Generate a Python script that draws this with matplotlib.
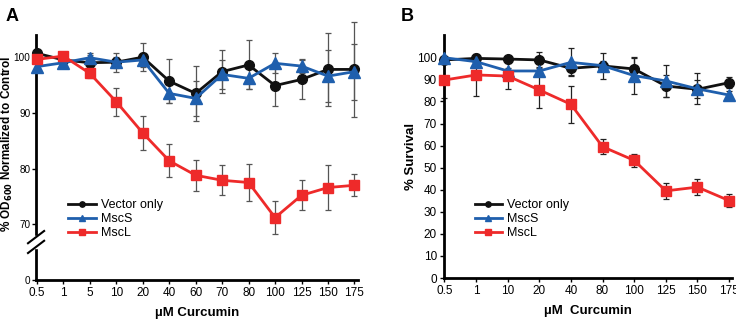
import numpy as np
import matplotlib
matplotlib.use("Agg")
import matplotlib.pyplot as plt

plt.rcParams["font.family"] = ["Liberation Sans", "DejaVu Sans"]

# ----------------------------
# Data, panel A (OD600, % of control)
# ----------------------------
conc_a = ["0.5", "1", "5", "10", "20", "40", "60", "70", "80", "100", "125", "150", "175"]
vec_a = [100.7, 99.5, 99.0, 99.1, 100.0, 95.7, 93.5, 97.4, 98.6, 94.9, 96.0, 97.8, 97.8]
vec_a_err = [0.6, 1.0, 1.3, 1.7, 2.5, 3.9, 5.0, 3.8, 4.4, 3.6, 3.5, 6.5, 8.5]
mscs_a = [98.3, 99.0, 99.9, 99.1, 99.5, 93.5, 92.6, 96.9, 96.2, 98.9, 98.4, 96.6, 97.4]
mscs_a_err = [0.8, 0.8, 0.8, 1.0, 1.2, 1.8, 3.2, 2.6, 2.0, 1.8, 1.2, 4.7, 5.0]
mscl_a = [99.6, 100.2, 97.1, 92.0, 86.4, 81.4, 78.8, 77.9, 77.5, 71.2, 75.2, 76.6, 77.0]
mscl_a_err = [0.6, 0.8, 0.8, 2.5, 3.0, 3.0, 2.8, 2.7, 3.3, 3.0, 2.7, 4.1, 2.0]

# ----------------------------
# Data, panel B (% survival)
# ----------------------------
conc_b = ["0.5", "1", "10", "20", "40", "80", "100", "125", "150", "175"]
vec_b = [98.8, 99.5, 99.2, 98.8, 95.0, 96.1, 94.7, 87.0, 85.5, 88.5]
vec_b_err = [1.0, 1.5, 1.5, 3.5, 3.0, 6.0, 5.0, 5.0, 4.0, 2.5]
mscs_b = [99.8, 98.0, 93.8, 93.8, 97.7, 96.2, 91.7, 89.3, 85.7, 82.9]
mscs_b_err = [1.0, 1.5, 1.5, 2.0, 6.4, 2.0, 8.3, 7.3, 7.0, 2.0]
mscl_b = [89.7, 92.0, 91.5, 85.2, 78.7, 59.5, 53.3, 39.5, 41.2, 35.1]
mscl_b_err = [8.0, 9.5, 6.0, 8.0, 8.5, 3.3, 3.0, 3.5, 3.5, 3.0]

labels = ["Vector only", "MscS", "MscL"]
colors = ["#111111", "#1f5fad", "#ee2a2a"]
markers = ["o", "^", "s"]
msizes = [7, 8, 7.5]

fig = plt.figure(figsize=(7.36, 3.2), dpi=100)
ax_a = fig.add_axes([0.049, 0.125, 0.438, 0.766])
ax_b = fig.add_axes([0.603, 0.131, 0.391, 0.759])


def draw_series(ax, xs, series, errs, ecolor):
    handles = []
    for y, e, c, m, ms, lab in zip(series, errs, colors, markers, msizes, labels):
        ax.errorbar(xs, y, yerr=e, fmt="none", ecolor=ecolor, elinewidth=0.9,
                    capsize=2, capthick=0.9, zorder=2, clip_on=False)
        h, = ax.plot(xs, y, color=c, marker=m, markersize=ms, linewidth=2,
                     label=lab, zorder=3, clip_on=False)
        handles.append(h)
    return handles


def style_axes(ax):
    for s in ["top", "right"]:
        ax.spines[s].set_visible(False)
    for s in ["left", "bottom"]:
        ax.spines[s].set_linewidth(2)
    ax.tick_params(axis="both", labelsize=8.5, width=1, length=3, pad=2)


# ----------------------------
# Panel A
# ----------------------------
xa = np.arange(len(conc_a))
ha = draw_series(ax_a, xa, [vec_a, mscs_a, mscl_a], [vec_a_err, mscs_a_err, mscl_a_err], "#555555")
style_axes(ax_a)
ax_a.tick_params(axis="y", labelsize=7.2, pad=1)
ax_a.set_xlim(-0.03, 12.15)
# broken axis: "0" drawn at the 60 position
ax_a.set_ylim(60, 104)
ax_a.set_yticks([60, 70, 80, 90, 100])
ax_a.set_yticklabels(["0", "70", "80", "90", "100"])
ax_a.set_xticks(xa)
ax_a.set_xticklabels(conc_a)
ax_a.set_xlabel("µM Curcumin", fontsize=9.5, fontweight="bold", labelpad=6)
fig.text(0.0095, 0.55, r"% OD$_{\mathbf{600}}$ Normalized to Control", fontsize=8.5,
         fontweight="bold", rotation=90, ha="center", va="center")
# break marks
ax_a.add_patch(plt.Rectangle((-0.02, 0.13), 0.04, 0.05, transform=ax_a.transAxes,
                             color="white", clip_on=False, zorder=5))
for yb in [0.135, 0.175]:
    ax_a.plot([-0.025, 0.025], [yb - 0.025, yb + 0.025], transform=ax_a.transAxes,
              color="black", linewidth=1.5, clip_on=False, zorder=6)
ax_a.legend(handles=ha, loc="upper left", bbox_to_anchor=(0.085, 0.35), frameon=False,
            fontsize=9, handlelength=2.2, markerscale=0.55, labelspacing=0.15,
            handletextpad=0.4, borderaxespad=0)
fig.text(0.008, 0.975, "A", fontsize=13, fontweight="bold", va="top")

# ----------------------------
# Panel B
# ----------------------------
xb = np.arange(len(conc_b))
hb = draw_series(ax_b, xb, [vec_b, mscs_b, mscl_b], [vec_b_err, mscs_b_err, mscl_b_err], "#222222")
style_axes(ax_b)
ax_b.set_xlim(-0.02, 9.08)
ax_b.set_ylim(0, 110)
ax_b.set_yticks(np.arange(0, 101, 10))
ax_b.set_xticks(xb)
ax_b.set_xticklabels(conc_b)
ax_b.set_xlabel("µM  Curcumin", fontsize=9.5, fontweight="bold", labelpad=6)
ax_b.set_ylabel("% Survival", fontsize=9.5, fontweight="bold", labelpad=0)
ax_b.legend(handles=hb, loc="upper left", bbox_to_anchor=(0.09, 0.345), frameon=False,
            fontsize=9, handlelength=2.2, markerscale=0.55, labelspacing=0.15,
            handletextpad=0.4, borderaxespad=0)
fig.text(0.545, 0.975, "B", fontsize=13, fontweight="bold", va="top")

fig.savefig("out.png", dpi=100)
